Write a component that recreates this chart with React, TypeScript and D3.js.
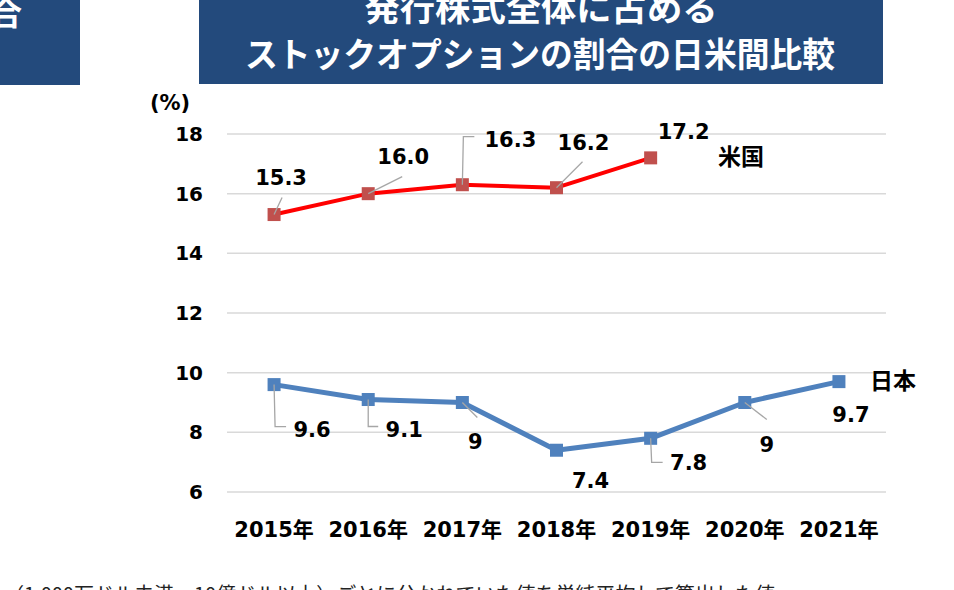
import React from "react";
import * as d3 from "d3";

const years = ["2015年", "2016年", "2017年", "2018年", "2019年", "2020年", "2021年"];
const usValues = [15.3, 16.0, 16.3, 16.2, 17.2];
const jpValues = [9.6, 9.1, 9.0, 7.4, 7.8, 9.0, 9.7];
const usLabels = ["15.3", "16.0", "16.3", "16.2", "17.2"];
const jpLabels = ["9.6", "9.1", "9", "7.4", "7.8", "9", "9.7"];
const yTicks = [6, 8, 10, 12, 14, 16, 18];
const titleLines = ["発行株式全体に占める", "ストックオプションの割合の日米間比較"];
const footnote = "（1,000万ドル未満、10億ドル以上）ごとに分かれていた値を単純平均して算出した値";

type Lab = { dx: number; dy: number; leader: "none" | "diag" | "elbow"; lx?: number; ly?: number; hx?: number };

// label placement (layout only)
const usLabelPos: Lab[] = [
  { dx: 7, dy: -37, leader: "diag", lx: 8, ly: -17 },
  { dx: 35, dy: -37, leader: "diag", lx: 34, ly: -17 },
  { dx: 48, dy: -45, leader: "elbow", lx: 1, ly: -48, hx: 12 },
  { dx: 27, dy: -45, leader: "diag", lx: 26, ly: -26 },
  { dx: 33, dy: -26, leader: "none" },
];
const jpLabelPos: Lab[] = [
  { dx: 38, dy: 45, leader: "elbow", lx: 1, ly: 42, hx: 12 },
  { dx: 36, dy: 30, leader: "elbow", lx: 0, ly: 27, hx: 10 },
  { dx: 13, dy: 39, leader: "diag", lx: 15, ly: 15 },
  { dx: 34, dy: 31, leader: "none" },
  { dx: 38, dy: 25, leader: "elbow", lx: 1, ly: 24, hx: 12 },
  { dx: 22, dy: 42, leader: "diag", lx: 22, ly: 17 },
  { dx: 12, dy: 33, leader: "none" },
];

const W = 954;
const H = 590;
const left = 227;
const right = 886;
const top = 134;
const bottom = 492;

const numFont = "'DejaVu Sans', 'Noto Sans CJK JP', sans-serif";
const jpFont = "'Noto Sans CJK JP', 'DejaVu Sans', sans-serif";

export default function App() {
  const x = d3.scalePoint<string>().domain(years).range([left, right]).padding(0.5);
  const y = d3.scaleLinear().domain([6, 18]).range([bottom, top]);

  const line = d3
    .line<number>()
    .x((_, i) => x(years[i]) as number)
    .y((d) => y(d));

  const renderLabels = (vals: number[], labels: string[], pos: Lab[]) =>
    vals.map((v, i) => {
      const px = x(years[i]) as number;
      const py = y(v);
      const p = pos[i];
      let leader: React.ReactNode = null;
      if (p.leader === "diag") {
        leader = (
          <line x1={px} y1={py} x2={px + (p.lx as number)} y2={py + (p.ly as number)} stroke="#a6a6a6" strokeWidth={1.3} />
        );
      } else if (p.leader === "elbow") {
        leader = (
          <polyline
            points={`${px},${py} ${px + (p.lx as number)},${py + (p.ly as number)} ${px + (p.hx as number)},${py + (p.ly as number)}`}
            fill="none"
            stroke="#a6a6a6"
            strokeWidth={1.3}
          />
        );
      }
      return (
        <g key={i}>
          {leader}
          <text
            x={px + p.dx}
            y={py + p.dy}
            textAnchor="middle"
            dominantBaseline="central"
            fontFamily={numFont}
            fontWeight="bold"
            fontSize={21}
            fill="#000"
          >
            {labels[i]}
          </text>
        </g>
      );
    });

  return (
    <svg width={W} height={H} style={{ position: "absolute", left: 0, top: 0, background: "#fff" }}>
      <rect x={0} y={0} width={W} height={H} fill="#fff" />
      {/* left cut header */}
      <rect x={0} y={0} width={80} height={85} fill="#234a7c" />
      <text x={22} y={25} textAnchor="end" fontFamily={jpFont} fontWeight="bold" fontSize={32} fill="#fff">
        合
      </text>
      {/* title box */}
      <rect x={199} y={0} width={684} height={84} fill="#234a7c" />
      <text
        x={541}
        y={21}
        textAnchor="middle"
        fontFamily={jpFont}
        fontWeight="bold"
        fontSize={34}
        fill="#fff"
        textLength={353}
        lengthAdjust="spacingAndGlyphs"
      >
        {titleLines[0]}
      </text>
      <text
        x={540}
        y={67}
        textAnchor="middle"
        fontFamily={jpFont}
        fontWeight="bold"
        fontSize={34}
        fill="#fff"
        textLength={590}
        lengthAdjust="spacingAndGlyphs"
      >
        {titleLines[1]}
      </text>

      {/* unit */}
      <text x={170} y={103} textAnchor="middle" dominantBaseline="central" fontFamily={numFont} fontWeight="bold" fontSize={21}>
        (%)
      </text>

      {/* grid + y ticks */}
      {yTicks.map((t) => (
        <g key={t}>
          <line x1={left} x2={right} y1={y(t)} y2={y(t)} stroke="#d9d9d9" strokeWidth={1.5} />
          <text
            x={203}
            y={y(t)}
            textAnchor="end"
            dominantBaseline="central"
            fontFamily={numFont}
            fontWeight="bold"
            fontSize={20}
            fill="#000"
          >
            {t}
          </text>
        </g>
      ))}

      {/* x labels */}
      {years.map((yr) => (
        <text
          key={yr}
          x={x(yr) as number}
          y={537}
          textAnchor="middle"
          fontFamily={numFont}
          fontWeight="bold"
          fontSize={21}
          fill="#000"
        >
          {yr}
        </text>
      ))}

      {/* US series */}
      <path d={line(usValues) as string} fill="none" stroke="#ff0000" strokeWidth={4} strokeLinejoin="round" />
      {usValues.map((v, i) => (
        <rect key={i} x={(x(years[i]) as number) - 6.5} y={y(v) - 6.5} width={13} height={13} fill="#c0504d" />
      ))}

      {/* Japan series */}
      <path d={line(jpValues) as string} fill="none" stroke="#4f81bd" strokeWidth={5} strokeLinejoin="round" />
      {jpValues.map((v, i) => (
        <rect key={i} x={(x(years[i]) as number) - 6.5} y={y(v) - 6.5} width={13} height={13} fill="#4f81bd" />
      ))}

      {renderLabels(usValues, usLabels, usLabelPos)}
      {renderLabels(jpValues, jpLabels, jpLabelPos)}

      {/* series names */}
      <text x={741} y={155} textAnchor="middle" dominantBaseline="central" fontFamily={jpFont} fontWeight="bold" fontSize={23}>
        米国
      </text>
      <text x={893} y={379} textAnchor="middle" dominantBaseline="central" fontFamily={jpFont} fontWeight="bold" fontSize={23}>
        日本
      </text>

      {/* footnote (cut at bottom) */}
      <text x={4} y={602} fontFamily={jpFont} fontSize={20} fill="#222">
        {footnote}
      </text>
    </svg>
  );
}
